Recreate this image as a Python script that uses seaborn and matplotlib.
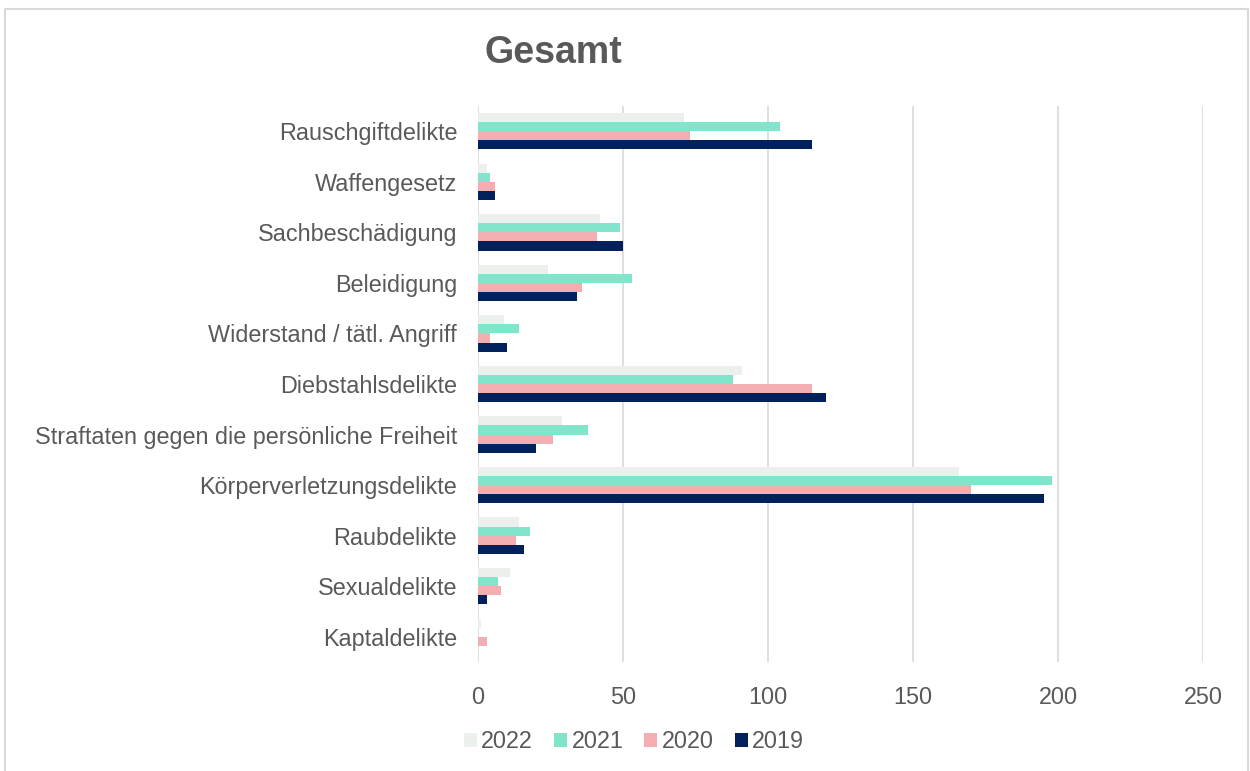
import matplotlib
matplotlib.use("Agg")
import matplotlib.pyplot as plt
import seaborn as sns
import pandas as pd
from matplotlib.patches import Rectangle

categories = ["Rauschgiftdelikte", "Waffengesetz", "Sachbeschädigung", "Beleidigung",
              "Widerstand / tätl. Angriff", "Diebstahlsdelikte",
              "Straftaten gegen die persönliche Freiheit", "Körperverletzungsdelikte",
              "Raubdelikte", "Sexualdelikte", "Kaptaldelikte"]
v2022 = [71, 3, 42, 24, 9, 91, 29, 166, 14, 11, 1]
v2021 = [104, 4, 49, 53, 14, 88, 38, 198, 18, 7, 0]
v2020 = [73, 6, 41, 36, 4, 115, 26, 170, 13, 8, 3]
v2019 = [115, 6, 50, 34, 10, 120, 20, 195, 16, 3, 0]
years = ["2022", "2021", "2020", "2019"]
colors = ["#ECF0EC", "#80E5CA", "#F4AEB1", "#00215C"]

rows = []
for y, vals in zip(years, [v2022, v2021, v2020, v2019]):
    for c, v in zip(categories, vals):
        rows.append({"Kategorie": c, "Jahr": y, "Wert": v})
df = pd.DataFrame(rows)

sns.set_theme(style="white")
plt.rcParams["font.family"] = ["Liberation Sans", "DejaVu Sans"]

fig = plt.figure(figsize=(12.5, 7.71), dpi=100)
ax = fig.add_axes([478/1250, 1-662/771, 725/1250, (662-106)/771])

sns.barplot(data=df, y="Kategorie", x="Wert", hue="Jahr", order=categories,
            hue_order=years, palette=colors, saturation=1, orient="h", width=0.72,
            linewidth=0, ax=ax, legend=True)

ax.set_xlim(0, 250)
ax.set_xticks([0, 50, 100, 150, 200, 250])
ax.set_xlabel("")
ax.set_ylabel("")
ax.grid(axis="x", color="#D9D9D9", linewidth=1.2)
ax.set_axisbelow(True)
for s in ax.spines.values():
    s.set_visible(False)
ax.tick_params(axis="y", length=0, pad=15, labelsize=16.8, labelcolor="#595959")
ax.tick_params(axis="x", length=0, pad=17, labelsize=16.8, labelcolor="#595959")

handles, labels = ax.get_legend_handles_labels()
ax.get_legend().remove()
leg = fig.legend(handles, labels, loc="center", bbox_to_anchor=(634/1250, 1-742/771),
                 ncol=4, frameon=False, fontsize=16.8, handlelength=0.55, handleheight=0.55,
                 handletextpad=0.2, columnspacing=0.9)
for t in leg.get_texts():
    t.set_color("#595959")

fig.text(553/1250, 1-63/771, "Gesamt", ha="center", va="baseline", fontsize=27,
         fontweight="bold", color="#595959")

fig.patches.append(Rectangle((5/1250, -0.01), 1243/1250, 1-9/771+0.01, transform=fig.transFigure,
                             fill=False, edgecolor="#D9D9D9", linewidth=1.5))

fig.savefig("out.png", dpi=100)
